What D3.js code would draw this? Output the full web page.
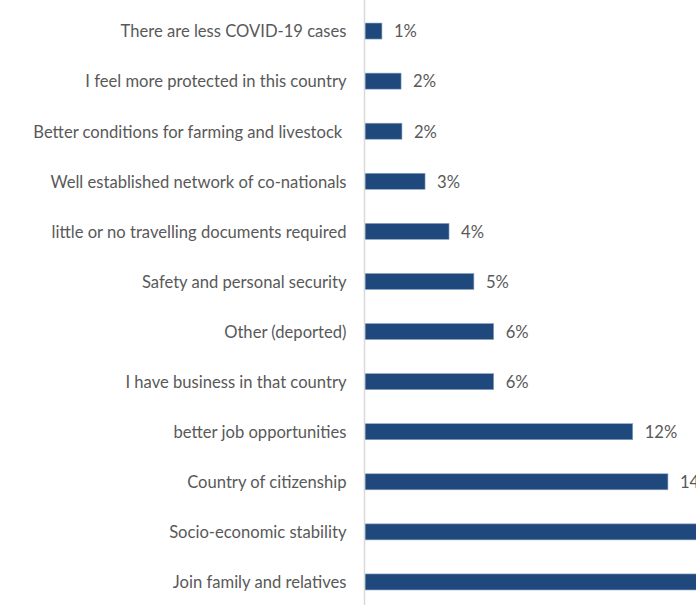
<!DOCTYPE html>
<html>
<head>
<meta charset="utf-8">
<script src="https://cdn.jsdelivr.net/npm/d3@7"></script>
<style>
  html, body { margin: 0; padding: 0; background: #ffffff; overflow: hidden; }
  svg { display: block; }
  text { font-family: Lato, "Open Sans", sans-serif; fill: #595959; }
</style>
</head>
<body>
<svg id="chart" width="696" height="605"></svg>
<script>
// Reasons for choosing the destination country (share of respondents)
const reasons = [
  "There are less COVID-19 cases",
  "I feel more protected in this country",
  "Better conditions for farming and livestock ",
  "Well established network of co-nationals",
  "little or no travelling documents required",
  "Safety and personal security",
  "Other (deported)",
  "I have business in that country",
  "better job opportunities",
  "Country of citizenship",
  "Socio-economic stability",
  "Join family and relatives"
];
const shares = [0.0077, 0.0164, 0.0168, 0.0273, 0.0382, 0.0495, 0.0585, 0.0585, 0.1217, 0.1377, 0.19, 0.22];

const svg = d3.select("#chart");
const plotLeft = 365, plotTop = 6, plotBottom = 607;

const x = d3.scaleLinear().domain([0, 0.01]).range([plotLeft, plotLeft + 22]);
const y = d3.scaleBand().domain(reasons).range([plotTop, plotBottom]).paddingInner(0.68).paddingOuter(0.34);

// bars
svg.append("g").selectAll("rect")
  .data(reasons)
  .join("rect")
  .attr("x", x(0))
  .attr("y", d => y(d))
  .attr("width", (d, i) => x(shares[i]) - x(0))
  .attr("height", y.bandwidth())
  .attr("fill", "#1f497c")
  .attr("stroke", "#8fa6c4")
  .attr("stroke-width", 0.6);

// category axis
const yAxis = d3.axisLeft(y).tickSize(0).tickPadding(18);
const gy = svg.append("g").attr("transform", `translate(${plotLeft - 0.5},0)`).call(yAxis);
gy.select(".domain").attr("stroke", "#d9d9d9").attr("stroke-width", 1.5)
  .attr("d", "M0,0V605");
gy.selectAll("text")
  .style("font-size", "16.6px")
  .style("white-space", "pre")
  .attr("dy", "0.38em")
  .attr("fill", "#595959");

// value labels
const fmt = d3.format(".0%");
svg.append("g").selectAll("text")
  .data(reasons)
  .join("text")
  .attr("x", (d, i) => x(shares[i]) + 12)
  .attr("y", d => y(d) + y.bandwidth() / 2)
  .attr("dy", "0.38em")
  .style("font-size", "16.6px")
  .text((d, i) => fmt(shares[i]));
</script>
</body>
</html>
